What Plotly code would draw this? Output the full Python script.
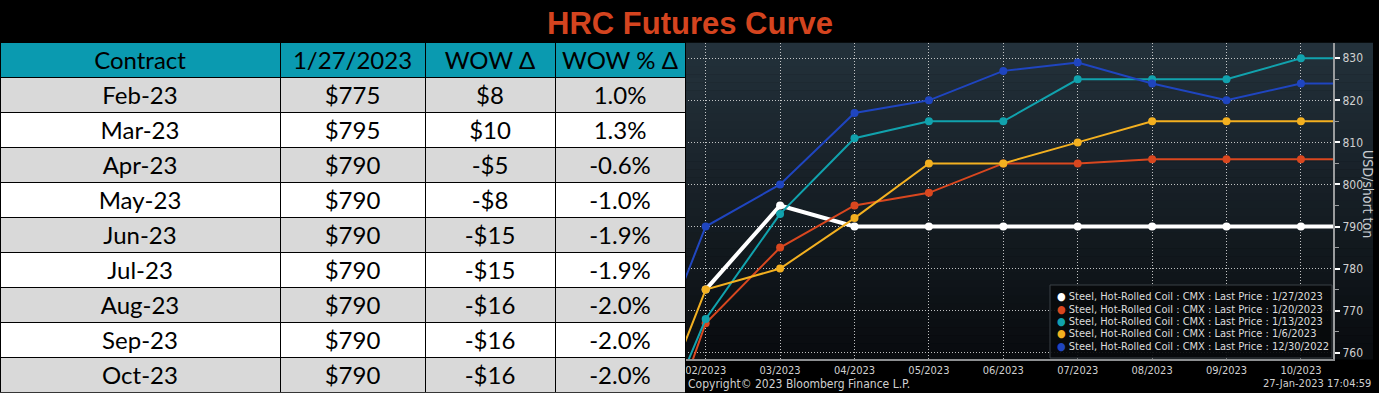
import plotly.graph_objects as go

W, H = 1379, 393

# ---------------- data ----------------
months = ["01/2023", "02/2023", "03/2023", "04/2023", "05/2023", "06/2023",
          "07/2023", "08/2023", "09/2023", "10/2023", "11/2023"]

p_0127 = [None, 775, 795, 790, 790, 790, 790, 790, 790, 790, 790]
p_0120 = [717, 767, 785, 795, 798, 805, 805, 806, 806, 806, 806]
p_0113 = [726, 768, 793, 811, 815, 815, 825, 825, 825, 830, 830]
p_0106 = [730, 775, 780, 792, 805, 805, 810, 815, 815, 815, 815]
p_1230 = [745, 790, 800, 817, 820, 827, 829, 824, 820, 824, 824]

series_dates = ["1/27/2023", "1/20/2023", "1/13/2023", "1/6/2023", "12/30/2022"]
series_values = [p_0127, p_0120, p_0113, p_0106, p_1230]
series_colors = ["#ffffff", "#d9471f", "#11a2ad", "#f3b020", "#1f45c0"]
series_widths = [4, 2, 2, 2, 2]

contracts = ["Feb-23", "Mar-23", "Apr-23", "May-23", "Jun-23",
             "Jul-23", "Aug-23", "Sep-23", "Oct-23"]
table_header = ["Contract", "1/27/2023", "WOW\u00a0Δ", "WOW\u00a0%\u00a0Δ"]

# table values derived from the curves (current vs one week earlier)
cur = p_0127[1:10]
prev = p_0120[1:10]
prices = [f"${v}" for v in cur]
wow = [(f"-${abs(c - p)}" if c - p < 0 else f"${c - p}") for c, p in zip(cur, prev)]
wow_pct = [f"{(c - p) / p * 100:.1f}%" for c, p in zip(cur, prev)]


def px(x):
    return x / W


def py(y):
    return 1 - y / H


BB_FONT = "Liberation Sans Narrow, DejaVu Sans Condensed, Arial Narrow, sans-serif"
TBL_FONT = "Lato, Carlito, Calibri, sans-serif"

fig = go.Figure()

# ---------------- table ----------------
row_fill = ["#d9d9d9" if i % 2 == 0 else "#ffffff" for i in range(len(contracts))]
fig.add_trace(go.Table(
    domain=dict(x=[0, px(685)], y=[0, py(42.5)]),
    columnwidth=[280, 145, 130, 130],
    header=dict(values=table_header, fill_color="#0a9ab0",
                line=dict(color="black", width=1),
                font=dict(family=TBL_FONT, size=24, color="black"),
                align="center", height=35),
    cells=dict(values=[contracts, prices, wow, wow_pct],
               fill_color=[row_fill] * 4,
               line=dict(color="black", width=1),
               font=dict(family=TBL_FONT, size=24, color="black"),
               align="center", height=35),
))

# ---------------- curves ----------------
for name, vals, col, lw in zip(series_dates, series_values, series_colors, series_widths):
    fig.add_trace(go.Scatter(
        x=months, y=vals, mode="lines+markers", name=name,
        line=dict(color=col, width=lw),
        marker=dict(color=col, size=8),
        showlegend=False, cliponaxis=True,
    ))

# ---------------- background panel (gradient) ----------------
shapes = []
top_px, bot_px = 42.7, 359.0
n = 40
c_top = (35, 49, 59)
c_bot = (9, 12, 15)
for i in range(n):
    t = i / (n - 1)
    r = int(c_top[0] + (c_bot[0] - c_top[0]) * t)
    g = int(c_top[1] + (c_bot[1] - c_top[1]) * t)
    b = int(c_top[2] + (c_bot[2] - c_top[2]) * t)
    y0 = top_px + (bot_px - top_px) * i / n
    y1 = top_px + (bot_px - top_px) * (i + 1) / n
    shapes.append(dict(type="rect", xref="paper", yref="paper", layer="below",
                       x0=px(685), x1=px(1373), y0=py(y1 + 0.5), y1=py(y0),
                       fillcolor=f"rgb({r},{g},{b})", line=dict(width=0)))

# legend box
shapes.append(dict(type="rect", xref="paper", yref="paper", layer="above",
                   x0=px(1050), x1=px(1332), y0=py(358), y1=py(285),
                   fillcolor="rgba(8,10,12,0.92)", line=dict(color="#3b4147", width=1)))

# ---------------- annotations ----------------
ann = []
ann.append(dict(text="<b>HRC Futures Curve</b>", x=px(690), y=py(23), xref="paper", yref="paper",
                xanchor="center", yanchor="middle", showarrow=False,
                font=dict(family="Liberation Sans, Arial, sans-serif", size=31, color="#d4441f")))
ann.append(dict(text="Copyright© 2023 Bloomberg Finance L.P.", x=px(686), y=py(383.5),
                xref="paper", yref="paper", xanchor="left", yanchor="middle", showarrow=False,
                font=dict(family=BB_FONT, size=12, color="#d0d0d0")))
ann.append(dict(text="27-Jan-2023 17:04:59", x=px(1373), y=py(383.5),
                xref="paper", yref="paper", xanchor="right", yanchor="middle", showarrow=False,
                font=dict(family=BB_FONT, size=11, color="#d0d0d0")))
ann.append(dict(text="USD/short ton", x=px(1368), y=py(194), xref="paper", yref="paper",
                xanchor="center", yanchor="middle", showarrow=False, textangle=90,
                font=dict(family=BB_FONT, size=14, color="#c8ccd0")))

legend_rows = [296.7, 309.0, 321.5, 333.8, 346.2]
for d, col, yy in zip(series_dates, series_colors, legend_rows):
    ann.append(dict(
        text=f'<span style="color:{col}">●</span> Steel, Hot-Rolled Coil : CMX : Last Price : {d}',
        x=px(1055), y=py(yy), xref="paper", yref="paper", xanchor="left", yanchor="middle",
        showarrow=False, font=dict(family=BB_FONT, size=11, color="#dcdcdc")))

grid_col = "rgba(225,225,225,0.85)"
fig.update_layout(
    width=W, height=H,
    margin=dict(l=0, r=0, t=0, b=0),
    paper_bgcolor="black",
    plot_bgcolor="rgba(0,0,0,0)",
    showlegend=False,
    shapes=shapes,
    annotations=ann,
    xaxis=dict(
        domain=[px(685), px(1333)], type="category", range=[0.722, 9.431],
        showgrid=True, gridcolor=grid_col, griddash="1px,2px", gridwidth=1,
        showline=True, linecolor="#8d8f91", linewidth=2,
        ticks="", tickfont=dict(family=BB_FONT, size=11, color="#d0d0d0"),
        zeroline=False, fixedrange=True,
    ),
    yaxis=dict(
        domain=[py(359), py(42.7)], side="right", range=[758.5, 833.7],
        dtick=10, tick0=760,
        showgrid=True, gridcolor=grid_col, griddash="1px,2px", gridwidth=1,
        showline=True, linecolor="#9a9c9e", linewidth=2,
        ticks="outside", ticklen=5, tickwidth=2, tickcolor="#ffffff",
        minor=dict(dtick=5, tick0=760, ticks="outside", ticklen=4, tickcolor="#9a9c9e",
                   tickwidth=1, showgrid=False),
        tickfont=dict(family=BB_FONT, size=12, color="#d0d0d0"),
        zeroline=False, fixedrange=True,
    ),
)

fig.write_html("out.html",
               config={"displayModeBar": False},
               post_script="document.body.style.margin='0';document.body.style.overflow='hidden';")
